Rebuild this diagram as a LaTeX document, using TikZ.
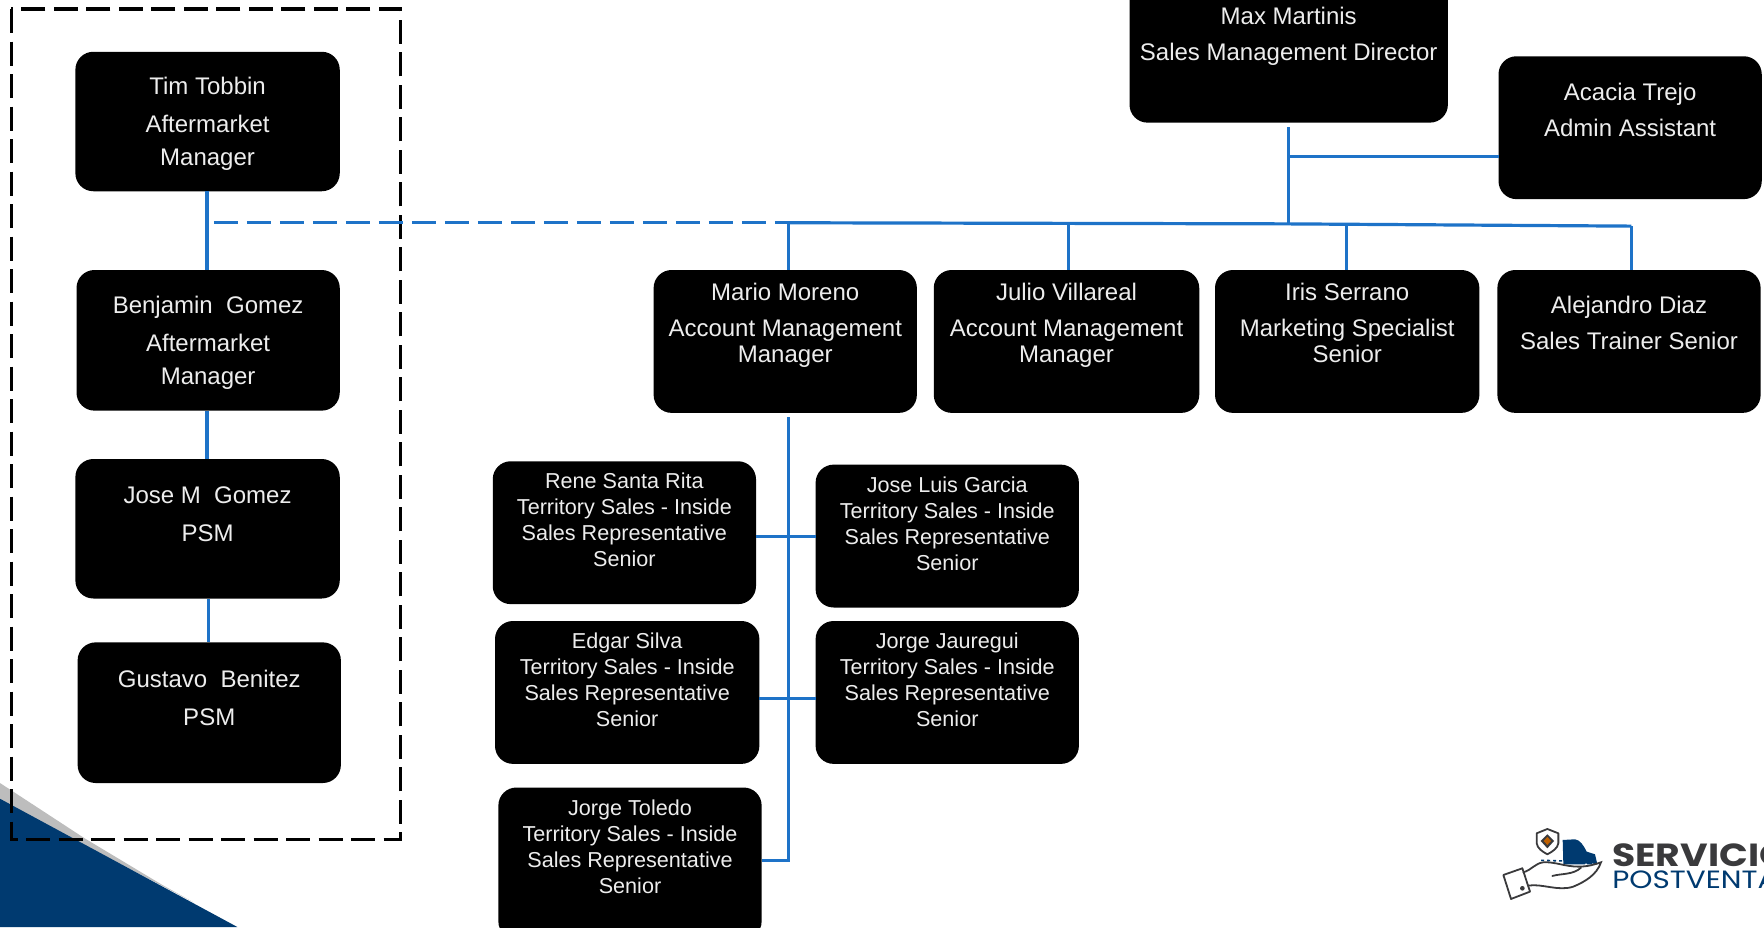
\documentclass[tikz,border=0pt]{standalone}
\usepackage{fontspec}
\setmainfont{Liberation Sans}
\newfontfamily\logofont[FakeStretch=1.18]{Poppins}
\definecolor{linkblue}{HTML}{1E73C8}
\definecolor{navy}{HTML}{003A70}
\definecolor{wedge}{HTML}{BDBDBD}
\definecolor{logogray}{HTML}{3A3A3C}
\definecolor{inktext}{HTML}{EDEDED}
\tikzset{
  orgbox/.style={fill=black,rounded corners=18pt,inner sep=0pt,outer sep=0pt,text=inktext,align=center},
  big/.style={font=\fontsize{24}{26}\selectfont},
  small/.style={font=\fontsize{21.6}{26}\selectfont},
  link/.style={draw=linkblue,line width=3.2pt},
  linkdash/.style={link,dash pattern=on 24pt off 9pt},
  group/.style={draw=black,line width=3.2pt,dash pattern=on 24pt off 8.5pt},
}
\newcommand{\orgnode}[8]{%
  \pgfmathsetmacro\bw{(#4-#2)*1.125}%
  \pgfmathsetmacro\bh{(#5-#3)*1.125}%
  \pgfmathsetmacro\cx{(#2+#4)/2}%
  \pgfmathsetmacro\cy{(#3+#5)/2}%
  \pgfmathsetmacro\dy{(\cy-#6)*1.125}%
  \node[orgbox,#7,minimum width=\bw pt,minimum height=\bh pt] (#1) at (\cx,\cy)
    {\raisebox{\dy pt}[0pt][0pt]{\renewcommand{\arraystretch}{1}\begin{tabular}{@{}c@{}}#8\end{tabular}}};%
}
\begin{document}
\begin{tikzpicture}[x=1.125pt,y=-1.125pt]
\useasboundingbox (0,0) rectangle (1568,824);
% corner wedge
\fill[wedge] (0,696) -- (75,745) -- (145,787) -- (172,802) -- (0,712) -- cycle;
\fill[navy] (0,710) -- (211,824) -- (0,824) -- cycle;
% dashed group frame
\draw[group] (10,8) rectangle (356,746);
% boxes
\orgnode{tim}{67}{46}{302}{170}{116.5}{big}{Tim Tobbin\\[12pt]Aftermarket\\[7pt]Manager}
\orgnode{benjamin}{68}{240}{302}{365}{311.5}{big}{Benjamin\ \ Gomez\\[12pt]Aftermarket\\[7pt]Manager}
\orgnode{josem}{67}{408}{302}{532}{465}{big}{Jose M\ \ Gomez\\[12pt]PSM}
\orgnode{gustavo}{69}{571}{303}{696}{629}{big}{Gustavo\ \ Benitez\\[12pt]PSM}
\orgnode{max}{1004}{-20}{1287}{109}{39}{big}{Max Martinis\\[10pt]Sales Management Director}
\orgnode{acacia}{1332}{50}{1566}{177}{106}{big}{Acacia Trejo\\[10pt]Admin Assistant}
\orgnode{mario}{581}{240}{815}{367}{296}{big}{Mario Moreno\\[10pt]Account Management\\Manager}
\orgnode{julio}{830}{240}{1066}{367}{296}{big}{Julio Villareal\\[10pt]Account Management\\Manager}
\orgnode{iris}{1080}{240}{1315}{367}{296}{big}{Iris Serrano\\[10pt]Marketing Specialist\\Senior}
\orgnode{alejandro}{1331}{240}{1565}{367}{296}{big}{Alejandro Diaz\\[10pt]Sales Trainer Senior}
\orgnode{rene}{438}{410}{672}{537}{469}{small}{Rene Santa Rita\\Territory Sales - Inside\\Sales Representative\\Senior}
\orgnode{joseluis}{725}{413}{959}{540}{472}{small}{Jose Luis Garcia\\Territory Sales - Inside\\Sales Representative\\Senior}
\orgnode{edgar}{440}{552}{675}{679}{611}{small}{Edgar Silva\\Territory Sales - Inside\\Sales Representative\\Senior}
\orgnode{jauregui}{725}{552}{959}{679}{611}{small}{Jorge Jauregui\\Territory Sales - Inside\\Sales Representative\\Senior}
\orgnode{toledo}{443}{700}{677}{835}{759.5}{small}{Jorge Toledo\\Territory Sales - Inside\\Sales Representative\\Senior}
% helper points
\coordinate (busL) at (701,198);
\coordinate (busM) at (1145,199);
\coordinate (busR) at (1450,201);
\coordinate (dashstart) at (190,198);
\coordinate (maxstem) at (1145,113);
\coordinate (adminj) at (1145,139);
\coordinate (mstem) at (701,371);
\coordinate (cross1) at (701,477);
\coordinate (cross2) at (701,621);
\coordinate (cross3) at (701,765);
% connectors
\draw[link] (tim.south -| 184,0) -- (benjamin.north -| 184,0);
\draw[link] (benjamin.south -| 184,0) -- (josem.north -| 184,0);
\draw[link] (josem.south -| 185,0) -- (gustavo.north -| 185,0);
\draw[linkdash] (dashstart) -- (busL);
\draw[link] (busL) -- (busM) -- (busR);
\draw[link] (maxstem) -- (busM);
\draw[link] (adminj) -- (acacia.west |- adminj);
\draw[link] (busL) -- (busL |- mario.north);
\draw[link] (950,199) -- (julio.north -| 950,0);
\draw[link] (1197,199) -- (iris.north -| 1197,0);
\draw[link] (busR) -- (busR |- alejandro.north);
\draw[link] (mstem) -- (cross3) -- (toledo.east |- cross3);
\draw[link] (rene.east |- cross1) -- (joseluis.west |- cross1);
\draw[link] (edgar.east |- cross2) -- (jauregui.west |- cross2);
% logo
\begin{scope}[shift={(1328.9,733.3)},x=0.3333pt,y=-0.3333pt]
  \draw[logogray,line width=1.8pt,fill=white,line join=round] (125,25) -- (157,12) -- (190,25) -- (190,55) .. controls (188,70) and (172,80) .. (157,88) .. controls (142,80) and (127,70) .. (125,55) -- cycle;
  \fill[logogray] (157,28) -- (177,48) -- (157,70) -- (137,48) -- cycle;
  \fill[orange!75!black] (157,36) -- (168,48) -- (157,60) -- (146,48) -- cycle;
  \fill[navy] (203,45) -- (240,43) .. controls (255,45) and (265,60) .. (275,80) -- (300,88) -- (307,118) -- (205,118) -- cycle;
  \draw[white,line width=1.5pt] (272,116) arc[start angle=180,end angle=0,radius=11];
  \draw[navy,line width=1.6pt,dashed] (138,106) -- (205,108);
  \draw[logogray,line width=1.8pt,line join=round] (25,150) -- (82,130) -- (105,200) -- (48,222) -- cycle;
  \fill[logogray] (82,190) circle[radius=7];
  \draw[logogray,line width=1.8pt,line cap=round] (85,142) .. controls (110,135) and (120,115) .. (145,112)
    .. controls (180,110) and (210,125) .. (250,125) .. controls (280,125) and (300,118) .. (318,112)
    .. controls (305,150) and (270,170) .. (235,185) .. controls (190,200) and (140,175) .. (100,182);
  \draw[logogray,line width=1.8pt,line cap=round] (172,153) .. controls (200,145) and (235,150) .. (258,128);
\end{scope}
\node[anchor=base west,inner sep=0pt,text=logogray,font=\logofont\bfseries\fontsize{32}{32}\selectfont] (servicio) at (1433,770) {SERVICIO};
\node[anchor=base west,inner sep=0pt,text=navy,font=\logofont\fontsize{25}{25}\selectfont] (postventa) at (1433,789.5) {POSTVENTA};
\end{tikzpicture}
\end{document}
